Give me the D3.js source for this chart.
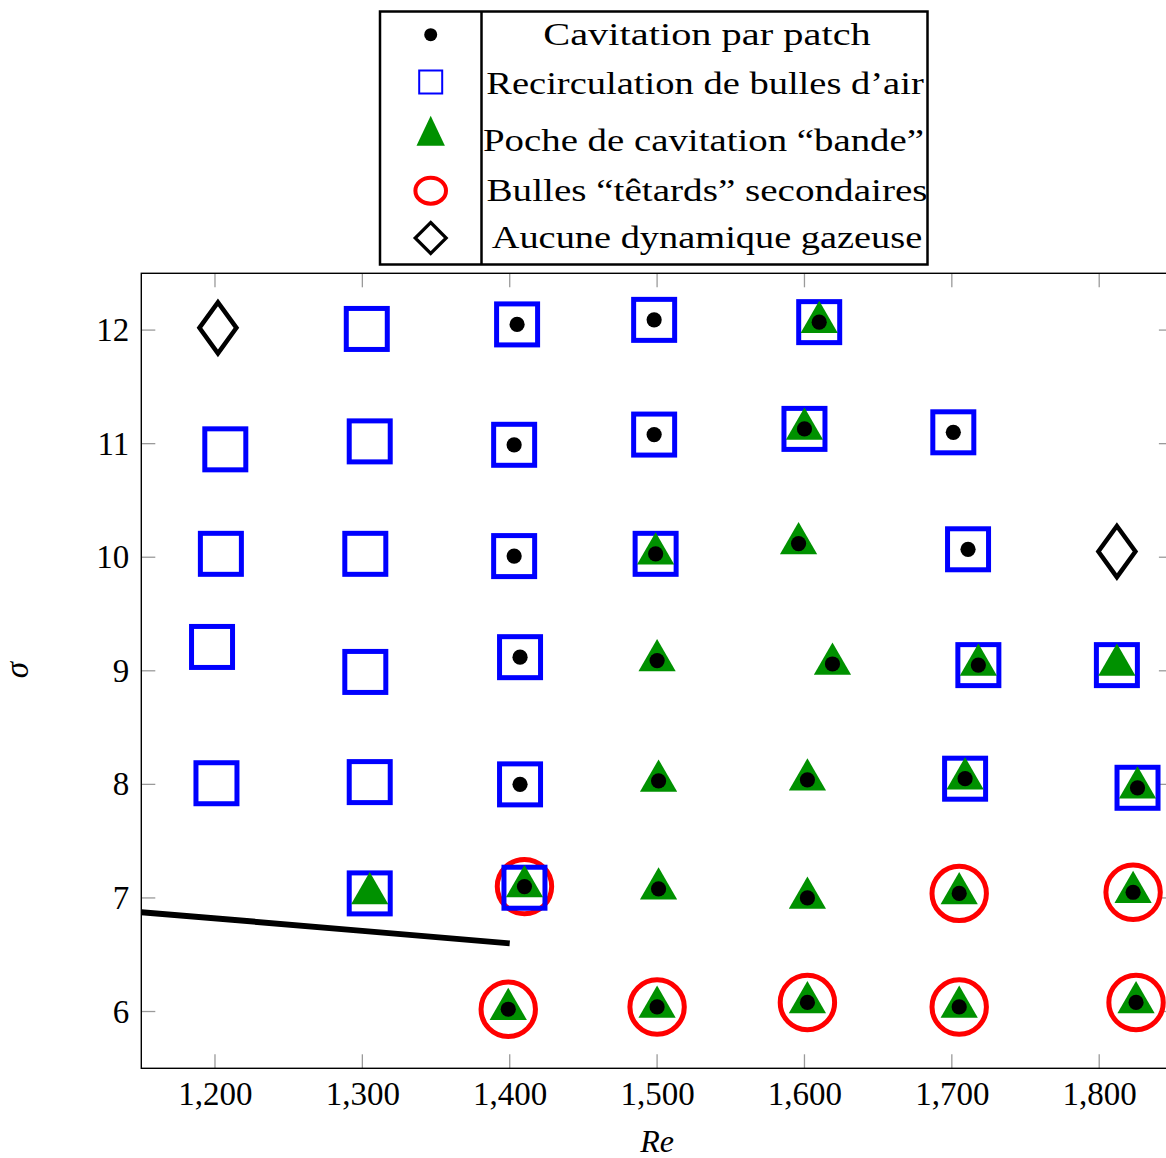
<!DOCTYPE html>
<html><head><meta charset="utf-8">
<script src="https://cdn.jsdelivr.net/npm/d3@7"></script>
<style>body{margin:0;background:#fff}svg{display:block}</style>
</head><body>
<script>
// ---- Data ----
const patchDots = [[1405,12.05],[1498,12.09],[1610,12.07],
  [1403,10.99],[1498,11.08],[1600,11.13],[1701,11.10],
  [1403,10.01],[1499,10.03],[1596,10.12],[1711,10.07],
  [1407,9.12],[1500,9.09],[1619,9.06],[1718,9.05],
  [1407,8.00],[1501,8.03],[1602,8.04],[1709,8.05],[1826,7.97],
  [1410,7.10],[1501,7.08],[1602,7.00],[1705,7.04],[1823,7.05],
  [1399,6.02],[1500,6.04],[1602,6.08],[1705,6.04],[1825,6.08]];
const recircSquares = [[1303,12.01],[1405,12.05],[1498,12.09],[1610,12.07],
  [1207,10.95],[1305,11.02],[1403,10.99],[1498,11.08],[1600,11.13],[1701,11.10],
  [1204,10.03],[1302,10.03],[1403,10.01],[1499,10.03],[1711,10.07],
  [1198,9.21],[1302,8.99],[1407,9.12],[1718,9.05],[1812,9.05],
  [1201,8.01],[1305,8.02],[1407,8.00],[1709,8.05],[1826,7.97],
  [1305,7.04],[1410,7.09]];
const bandeTriangles = [[1610,12.07],[1600,11.13],[1499,10.03],[1596,10.12],
  [1500,9.09],[1619,9.06],[1718,9.05],[1812,9.05],
  [1501,8.03],[1602,8.04],[1709,8.05],[1826,7.97],
  [1305,7.04],[1410,7.10],[1501,7.08],[1602,7.00],[1705,7.04],[1823,7.05],
  [1399,6.02],[1500,6.04],[1602,6.08],[1705,6.04],[1825,6.08]];
const tetardCircles = [[1410,7.10],[1705,7.04],[1823,7.05],
  [1399,6.02],[1500,6.04],[1602,6.08],[1705,6.04],[1825,6.08]];
const noneDiamonds = [[1202,12.02],[1812,10.05]];
const boundaryLine = [[1150,6.875],[1300,6.71],[1400,6.60]];
const xTicks = [1200,1300,1400,1500,1600,1700,1800];
const yTicks = [6,7,8,9,10,11,12];
const legendLabels = ["Cavitation par patch","Recirculation de bulles d\u2019air",
  "Poche de cavitation \u201cbande\u201d","Bulles \u201ct\u00eatards\u201d secondaires",
  "Aucune dynamique gazeuse"];

// ---- Layout ----
const W = 1166, H = 1158;
const L = 141.3, T = 273.3, B = 1068.3;
const BLUE = "#0000ff", RED = "#ff0000", GREEN = "#009100";
const FONT = "'Liberation Serif', 'DejaVu Serif', serif";

const svg = d3.select("body").append("svg").attr("width", W).attr("height", H);
const x = d3.scaleLinear().domain([1150, 1850]).range([L, L + 700 * 1.4737]);
const y = d3.scaleLinear().domain([5.5, 12.5]).range([B, T]);
const R = x.range()[1];

svg.append("clipPath").attr("id", "clip").append("rect")
  .attr("x", L).attr("y", T).attr("width", R - L).attr("height", B - T);

// ticks (inward, gray) on all sides
const tickLen = 14, tickCol = "#9a9a9a";
const tg = svg.append("g").attr("stroke", tickCol).attr("stroke-width", 1.3);
xTicks.forEach(v => {
  tg.append("line").attr("x1", x(v)).attr("x2", x(v)).attr("y1", B).attr("y2", B - tickLen);
  tg.append("line").attr("x1", x(v)).attr("x2", x(v)).attr("y1", T).attr("y2", T + tickLen);
});
yTicks.forEach(v => {
  tg.append("line").attr("x1", L).attr("x2", L + tickLen).attr("y1", y(v)).attr("y2", y(v));
  tg.append("line").attr("x1", R).attr("x2", R - tickLen).attr("y1", y(v)).attr("y2", y(v));
});

// axes via d3 (labels only), then frame
const xAxis = d3.axisBottom(x).tickValues(xTicks).tickFormat(d3.format(",")).tickSize(0).tickPadding(13);
const gx = svg.append("g").attr("transform", `translate(0,${B})`).call(xAxis);
gx.select(".domain").remove();
gx.selectAll("text").attr("font-family", FONT).attr("font-size", 33).attr("fill", "#000");
const yAxis = d3.axisLeft(y).tickValues(yTicks).tickFormat(d3.format("d")).tickSize(0).tickPadding(12);
const gy = svg.append("g").attr("transform", `translate(${L},0)`).call(yAxis);
gy.select(".domain").remove();
gy.selectAll("text").attr("font-family", FONT).attr("font-size", 33).attr("fill", "#000");

svg.append("rect").attr("x", L).attr("y", T).attr("width", R - L).attr("height", B - T)
  .attr("fill", "none").attr("stroke", "#000").attr("stroke-width", 1.4);

// axis titles
svg.append("text").attr("x", x(1500)).attr("y", 1152).attr("text-anchor", "middle")
  .attr("font-family", FONT).attr("font-style", "italic").attr("font-size", 32).text("Re");
svg.append("text").attr("transform", "translate(28,670) rotate(-90)").attr("text-anchor", "middle")
  .attr("font-family", FONT).attr("font-style", "italic").attr("font-size", 33).text("\u03c3");

// ---- Marks ----
const plot = svg.append("g").attr("clip-path", "url(#clip)");
plot.append("path").datum(boundaryLine)
  .attr("d", d3.line().x(d => x(d[0])).y(d => y(d[1])))
  .attr("fill", "none").attr("stroke", "#000").attr("stroke-width", 6);

plot.selectAll("circle.tet").data(tetardCircles).join("circle").attr("class", "tet")
  .attr("cx", d => x(d[0])).attr("cy", d => y(d[1])).attr("r", 27.2)
  .attr("fill", "none").attr("stroke", RED).attr("stroke-width", 5);

plot.selectAll("rect.sq").data(recircSquares).join("rect").attr("class", "sq")
  .attr("x", d => x(d[0]) - 20.5).attr("y", d => y(d[1]) - 20.5).attr("width", 41).attr("height", 41)
  .attr("fill", "none").attr("stroke", BLUE).attr("stroke-width", 5);

const triR = 21.5;
const triPath = `M0,${-triR}L${triR*0.866},${triR/2}L${-triR*0.866},${triR/2}Z`;
plot.selectAll("path.tri").data(bandeTriangles).join("path").attr("class", "tri")
  .attr("transform", d => `translate(${x(d[0])},${y(d[1])})`).attr("d", triPath).attr("fill", GREEN);

plot.selectAll("circle.dot").data(patchDots).join("circle").attr("class", "dot")
  .attr("cx", d => x(d[0])).attr("cy", d => y(d[1])).attr("r", 7.6).attr("fill", "#000");

const diaPath = "M0,-25.5L18.5,0L0,25.5L-18.5,0Z";
plot.selectAll("path.dia").data(noneDiamonds).join("path").attr("class", "dia")
  .attr("transform", d => `translate(${x(d[0])},${y(d[1])})`).attr("d", diaPath)
  .attr("fill", "none").attr("stroke", "#000").attr("stroke-width", 4.5).attr("stroke-linejoin", "miter");

// ---- Legend ----
const lg = svg.append("g");
lg.append("rect").attr("x", 380).attr("y", 11.5).attr("width", 547.5).attr("height", 253)
  .attr("fill", "#fff").attr("stroke", "#000").attr("stroke-width", 2.5);
lg.append("line").attr("x1", 481.5).attr("x2", 481.5).attr("y1", 11.5).attr("y2", 264.5)
  .attr("stroke", "#000").attr("stroke-width", 2.5);
const sx = 430.7;
const symY = [34.7, 82, 132, 190.7, 238];
lg.append("circle").attr("cx", sx).attr("cy", symY[0]).attr("r", 6.5).attr("fill", "#000");
lg.append("rect").attr("x", sx - 11.5).attr("y", symY[1] - 11.5).attr("width", 23).attr("height", 23)
  .attr("fill", "none").attr("stroke", BLUE).attr("stroke-width", 2);
lg.append("path").attr("d", `M${sx},115.7L${sx+14.2},145.7L${sx-14.2},145.7Z`).attr("fill", GREEN);
lg.append("ellipse").attr("cx", sx).attr("cy", symY[3]).attr("rx", 15.3).attr("ry", 13)
  .attr("fill", "none").attr("stroke", RED).attr("stroke-width", 4);
lg.append("path").attr("d", `M${sx},${symY[4]-15.5}L${sx+15.5},${symY[4]}L${sx},${symY[4]+15.5}L${sx-15.5},${symY[4]}Z`)
  .attr("fill", "none").attr("stroke", "#000").attr("stroke-width", 3.2);
const textBase = [44.7, 94, 150.7, 201, 248];
const textW = [327.5, 437.5, 441, 441, 430.6];
const textC = [707, 705, 703.5, 707, 707];
legendLabels.forEach((t, i) => {
  lg.append("text").attr("x", textC[i]).attr("y", textBase[i]).attr("text-anchor", "middle")
    .attr("font-family", FONT).attr("font-size", 32)
    .attr("textLength", textW[i]).attr("lengthAdjust", "spacingAndGlyphs").text(t);
});
</script>
</body></html>
